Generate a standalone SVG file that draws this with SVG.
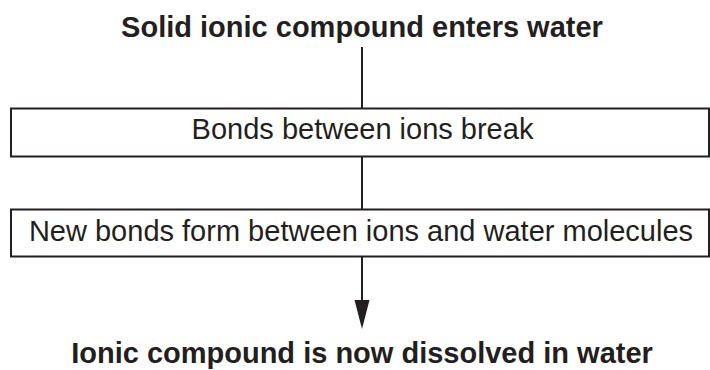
<svg xmlns="http://www.w3.org/2000/svg" width="710" height="370" viewBox="0 0 710 370">
<style>
.t{font-family:"Liberation Sans",Arial,sans-serif;font-size:29px;fill:#231f20;text-anchor:middle}
.b{font-weight:bold}
.box{fill:#fff;stroke:#231f20;stroke-width:2}
.ln{stroke:#231f20;stroke-width:2;fill:none}
</style>
<defs>
<marker id="ah" markerUnits="userSpaceOnUse" markerWidth="16" markerHeight="30" refX="8" refY="29" orient="auto-start-reverse" viewBox="0 0 16 30">
<path d="M0.5,0 L15.5,0 L8,29 Z" fill="#231f20"/>
</marker>
</defs>
<rect width="710" height="370" fill="#fff"/>
<g id="connectors">
<line class="ln" x1="362" y1="47" x2="362" y2="108.5"/>
<line class="ln" x1="362" y1="156.5" x2="362" y2="209.5"/>
<line class="ln" x1="362" y1="256.5" x2="362" y2="300"/>
<path d="M354.5,300 L369.5,300 L362,329 Z" fill="#231f20"/>
</g>
<g id="start">
<text class="t b" x="362" y="37">Solid ionic compound enters water</text>
</g>
<g id="step1">
<rect class="box" x="11" y="108.5" width="698" height="48"/>
<text class="t" x="362.5" y="139">Bonds between ions break</text>
</g>
<g id="step2">
<rect class="box" x="11" y="209.5" width="698" height="47"/>
<text class="t" x="361" y="241">New bonds form between ions and water molecules</text>
</g>
<g id="end">
<text class="t b" x="362" y="363">Ionic compound is now dissolved in water</text>
</g>
</svg>
